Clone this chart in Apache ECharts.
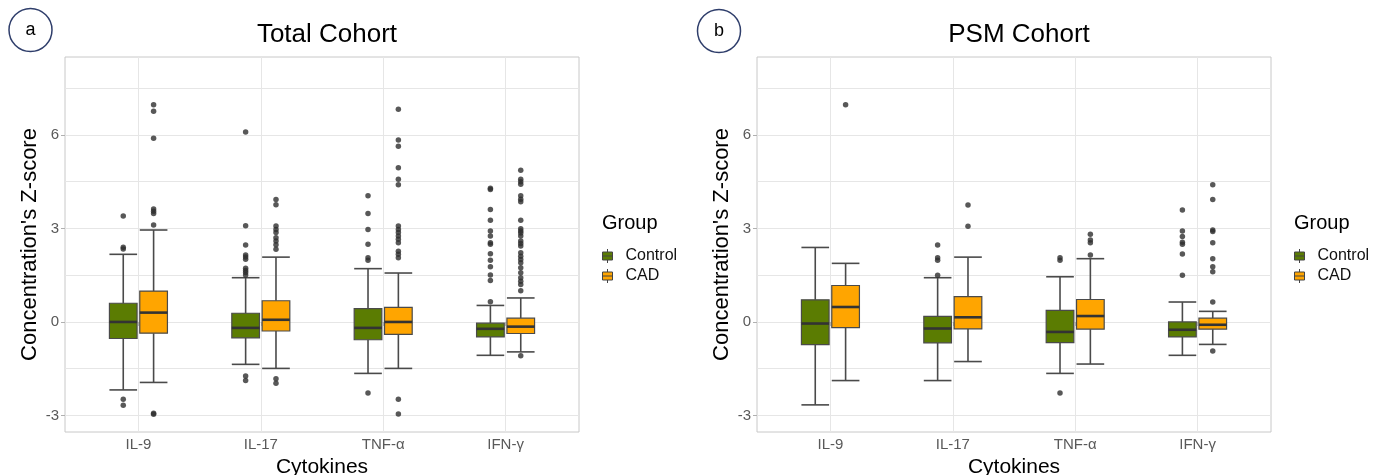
<!DOCTYPE html>
<html>
<head>
<meta charset="utf-8">
<script src="https://cdn.jsdelivr.net/npm/echarts@6/dist/echarts.min.js"></script>
<style>
html,body{margin:0;padding:0;background:#fff;}
#chart{width:1382px;height:475px;}
</style>
</head>
<body>
<div id="chart"></div>
<script>
// ---------------- data ----------------
const categories = ['IL-9', 'IL-17', 'TNF-α', 'IFN-γ'];
const groups = ['Control', 'CAD'];
const panelTitles = ['Total Cohort', 'PSM Cohort'];
const panelTags = ['a', 'b'];
const yTickLabels = [-3, 0, 3, 6];
const yGridValues = [-3, -1.5, 0, 1.5, 3, 4.5, 6, 7.5];

// box stats per category: [lower whisker, Q1, median, Q3, upper whisker]
const totalControlBox = [
  [-2.18, -0.53, 0.00, 0.60, 2.17],
  [-1.36, -0.51, -0.19, 0.28, 1.42],
  [-1.65, -0.57, -0.19, 0.43, 1.71],
  [-1.07, -0.48, -0.22, -0.04, 0.53]
];
const totalCADBox = [
  [-1.94, -0.36, 0.30, 0.99, 2.95],
  [-1.49, -0.29, 0.07, 0.68, 2.08],
  [-1.49, -0.40, 0.00, 0.47, 1.57],
  [-0.96, -0.37, -0.15, 0.12, 0.77]
];
const totalControlOutliers = [
  [3.40, 2.40, 2.34, -2.48, -2.67],
  [6.09, 3.09, 2.47, 2.15, 2.08, 2.01, 1.72, 1.65, 1.59, 1.51, -1.73, -1.88],
  [4.05, 3.48, 2.97, 2.49, 2.06, 1.98, -2.28],
  [4.29, 4.25, 3.61, 3.26, 2.92, 2.76, 2.54, 2.49, 2.19, 1.98, 1.77, 1.51, 1.33, 0.65]
];
const totalCADOutliers = [
  [6.97, 6.76, 5.89, 3.62, 3.55, 3.48, 3.11, -2.93, -2.96],
  [3.93, 3.76, 3.08, 2.97, 2.87, 2.70, 2.60, 2.48, 2.33, -1.82, -1.97],
  [6.82, 5.84, 5.64, 4.95, 4.58, 4.40, 3.08, 2.97, 2.87, 2.76, 2.65, 2.54, 2.27, 2.17, 2.06, -2.48, -2.95],
  [4.87, 4.58, 4.50, 4.42, 4.05, 3.94, 3.86, 3.26, 2.99, 2.92, 2.85, 2.76, 2.60, 2.52, 2.44, 2.22, 2.11, 2.00, 1.90, 1.74, 1.58, 1.42, 1.31, 1.20, 1.00, -1.08]
];

const psmControlBox = [
  [-2.66, -0.73, -0.05, 0.71, 2.39],
  [-1.88, -0.67, -0.21, 0.18, 1.42],
  [-1.65, -0.66, -0.32, 0.37, 1.45],
  [-1.07, -0.48, -0.25, 0.00, 0.64]
];
const psmCADBox = [
  [-1.88, -0.18, 0.48, 1.17, 1.88],
  [-1.27, -0.22, 0.15, 0.81, 2.08],
  [-1.35, -0.23, 0.19, 0.72, 2.03],
  [-0.72, -0.23, -0.09, 0.12, 0.34]
];
const psmControlOutliers = [
  [],
  [2.47, 2.06, 1.98, 1.50],
  [2.06, 1.98, -2.28],
  [3.59, 2.92, 2.74, 2.56, 2.49, 2.18, 1.50]
];
const psmCADOutliers = [
  [6.97],
  [3.75, 3.07],
  [2.81, 2.63, 2.54, 2.15],
  [4.40, 3.93, 2.95, 2.90, 2.54, 2.03, 1.77, 1.61, 0.64, -0.93]
];

const panels = [
  { boxes: [totalControlBox, totalCADBox], outliers: [totalControlOutliers, totalCADOutliers] },
  { boxes: [psmControlBox, psmCADBox], outliers: [psmControlOutliers, psmCADOutliers] }
];

// ---------------- styling ----------------
const FONT = "'Liberation Sans', Arial, Helvetica, sans-serif";
const groupColors = ['#5B7C02', '#FFA500'];
const DODGE = [-0.124, 0.124];
const BOX_W = 0.226;
const gridLefts = [65, 757];
const GRID_W = 514;

const chart = echarts.init(document.getElementById('chart'), null, { renderer: 'canvas' });

const grids = [], xAxes = [], yAxes = [], series = [], titles = [], legends = [], graphics = [];

panels.forEach((p, gi) => {
  const left = gridLefts[gi];
  grids.push({ left: left, top: 57, width: GRID_W, height: 375, containLabel: false, outerBoundsMode: 'none',
    show: true, borderColor: '#C8C8C8', borderWidth: 1, backgroundColor: 'transparent' });
  xAxes.push({
    type: 'value', gridIndex: gi, min: 0.4, max: 4.6,
    name: 'Cytokines', nameLocation: 'middle', nameGap: 19,
    nameTextStyle: { fontFamily: FONT, fontSize: 21, color: '#000' },
    axisLine: { show: false },
    axisTick: { show: true, length: 4, lineStyle: { color: '#B0B0B0' }, customValues: [1, 2, 3, 4] },
    axisLabel: { show: true, margin: 5, fontFamily: FONT, fontSize: 15, color: '#595959', customValues: [1, 2, 3, 4],
      formatter: v => categories[Math.round(v) - 1] },
    splitLine: { show: true, lineStyle: { color: '#E6E6E6', width: 1 } }
  });
  yAxes.push({
    type: 'value', gridIndex: gi, min: -3.53, max: 8.5,
    name: "Concentration's Z-score", nameLocation: 'middle', nameGap: 24,
    nameTextStyle: { fontFamily: FONT, fontSize: 22, color: '#000' },
    axisLine: { show: false },
    axisTick: { show: false, customValues: yGridValues },
    axisLabel: { show: true, margin: 6, fontFamily: FONT, fontSize: 15, color: '#595959', customValues: yTickLabels },
    splitLine: { show: true, lineStyle: { color: '#E6E6E6', width: 1 } }
  });
  // overlay axis for major ticks only
  yAxes.push({
    type: 'value', gridIndex: gi, min: -3.53, max: 8.5, position: 'left',
    axisLine: { show: false },
    axisTick: { show: true, length: 4, lineStyle: { color: '#B0B0B0' }, customValues: yTickLabels },
    axisLabel: { show: false },
    splitLine: { show: false }
  });

  groups.forEach((g, k) => {
    const dodge = DODGE[k];
    series.push({
      type: 'custom', name: g, xAxisIndex: gi, yAxisIndex: gi * 2,
      itemStyle: { color: groupColors[k] },
      encode: { x: 0, y: [1, 2, 3, 4, 5] },
      data: p.boxes[k].map((b, i) => [i + 1].concat(b)),
      z: 3,
      renderItem: function (params, api) {
        const x = api.value(0) + dodge;
        const lo = api.coord([x, api.value(1)]);
        const q1 = api.coord([x, api.value(2)]);
        const md = api.coord([x, api.value(3)]);
        const q3 = api.coord([x, api.value(4)]);
        const hi = api.coord([x, api.value(5)]);
        const half = api.size([BOX_W, 0])[0] / 2;
        const cx = lo[0];
        const wl = { stroke: '#4A4A4A', lineWidth: 1.6 };
        return {
          type: 'group',
          children: [
            { type: 'line', shape: { x1: cx, y1: hi[1], x2: cx, y2: q3[1] }, style: wl },
            { type: 'line', shape: { x1: cx, y1: q1[1], x2: cx, y2: lo[1] }, style: wl },
            { type: 'line', shape: { x1: cx - half, y1: hi[1], x2: cx + half, y2: hi[1] }, style: wl },
            { type: 'line', shape: { x1: cx - half, y1: lo[1], x2: cx + half, y2: lo[1] }, style: wl },
            { type: 'rect', shape: { x: cx - half, y: q3[1], width: half * 2, height: q1[1] - q3[1] },
              style: { fill: groupColors[k], stroke: '#4A4A4A', lineWidth: 1.2 } },
            { type: 'line', shape: { x1: cx - half, y1: md[1], x2: cx + half, y2: md[1] }, style: { stroke: '#333', lineWidth: 2.6 } }
          ]
        };
      }
    });
    const pts = [];
    p.outliers[k].forEach((arr, i) => arr.forEach(v => pts.push([i + 1 + dodge, v])));
    series.push({
      type: 'scatter', name: g + ' outliers', xAxisIndex: gi, yAxisIndex: gi * 2,
      data: pts, symbol: 'circle', symbolSize: 5.5,
      itemStyle: { color: '#2E2E2E' }, z: 4, silent: true
    });
  });

  titles.push({ text: panelTitles[gi], left: left + GRID_W / 2, top: 17, textAlign: 'center',
    textStyle: { fontFamily: FONT, fontSize: 26, fontWeight: 'normal', color: '#000' } });
  titles.push({ text: 'Group', left: left + GRID_W + 18, top: 208,
    textStyle: { fontFamily: FONT, fontSize: 20, fontWeight: 'normal', color: '#000' } });
  legends.push({
    data: groups, orient: 'vertical', left: left + GRID_W + 18, top: 243,
    itemWidth: 10, itemHeight: 14, itemGap: 4, selectedMode: false,
    icon: 'path://M0 3 H10 V11 H0 Z M0 7 H10 M5 0 V3 M5 11 V14',
    itemStyle: { borderColor: '#444', borderWidth: 1 },
    formatter: n => '{t|' + n + '}',
    textStyle: { fontFamily: FONT, fontSize: 16, color: '#111',
      rich: { t: { fontFamily: FONT, fontSize: 16, color: '#111', padding: [0, 0, 0, 8] } } }
  });
});

graphics.push(
  { type: 'circle', shape: { cx: 30.5, cy: 30, r: 21.5 }, style: { fill: '#fff', stroke: '#2F3E6B', lineWidth: 1.5 } },
  { type: 'text', x: 30.5, y: 30, style: { text: panelTags[0], fontFamily: FONT, fontSize: 18, fill: '#000', align: 'center', verticalAlign: 'middle' } },
  { type: 'circle', shape: { cx: 719, cy: 31, r: 21.5 }, style: { fill: '#fff', stroke: '#2F3E6B', lineWidth: 1.5 } },
  { type: 'text', x: 719, y: 31, style: { text: panelTags[1], fontFamily: FONT, fontSize: 18, fill: '#000', align: 'center', verticalAlign: 'middle' } }
);

chart.setOption({
  animation: false,
  backgroundColor: '#fff',
  title: titles,
  legend: legends,
  grid: grids,
  xAxis: xAxes,
  yAxis: yAxes,
  series: series,
  graphic: graphics
});
</script>
</body>
</html>
